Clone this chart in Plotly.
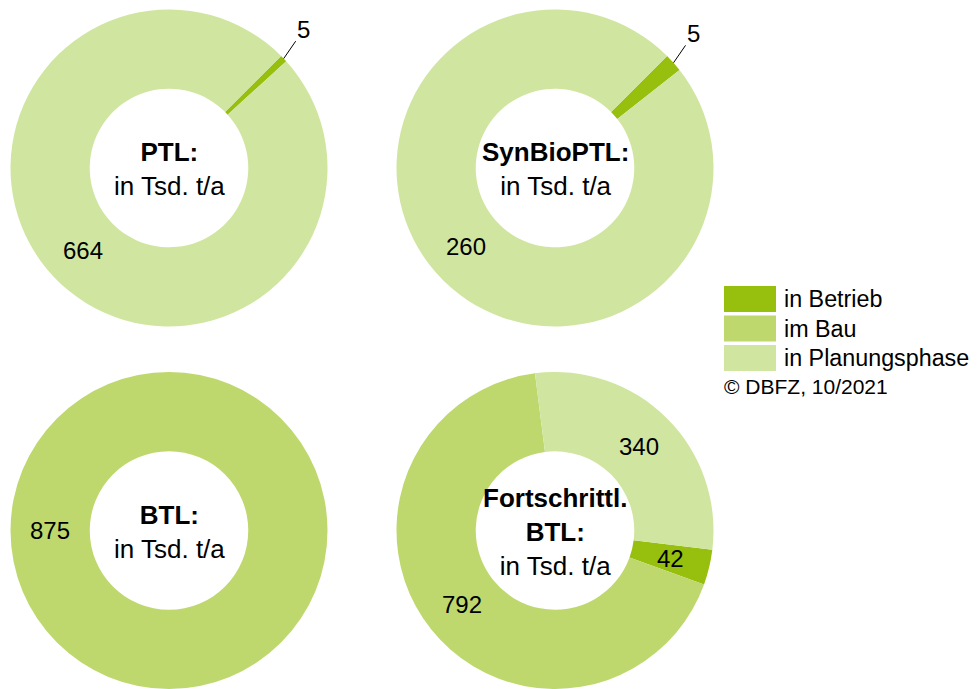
import math
import plotly.graph_objects as go

# --- data -------------------------------------------------------------
categories = ["in Betrieb", "im Bau", "in Planungsphase"]
colors = ["#97BF0D", "#BED86E", "#D0E6A0"]

chart_titles = [["PTL:"], ["SynBioPTL:"], ["BTL:"], ["Fortschrittl.", "BTL:"]]
unit_label = "in Tsd. t/a"
source_note = "© DBFZ, 10/2021"

ptl = [5, 0, 664]
synbioptl = [5, 0, 260]
btl = [0, 875, 0]
fortschrittl_btl = [42, 792, 340]
series = [ptl, synbioptl, btl, fortschrittl_btl]

# angle of the first slice (degrees clockwise from 12 o'clock)
start_angles = [45, 45, 90, 97]

# --- geometry / style -------------------------------------------------
W, H = 977, 689
R = 158.5
HOLE = 0.5
centers = [(169, 168), (555, 168), (169, 530.5), (555, 530.5)]
FONT = "Liberation Sans, Arial, sans-serif"
VALUE_SIZE = 24
TITLE_SIZE = 26
LEGEND_SIZE = 23.3


def px_to_paper(x, y):
    return x / W, 1 - y / H


fig = go.Figure()
annotations = []

for vals, rot, (cx, cy), title in zip(series, start_angles, centers, chart_titles):
    x0, y1 = px_to_paper(cx - R, cy - R)
    x1, y0 = px_to_paper(cx + R, cy + R)
    fig.add_trace(go.Pie(
        labels=categories,
        values=vals,
        hole=HOLE,
        sort=False,
        direction="clockwise",
        rotation=rot,
        textinfo="none",
        hoverinfo="label+value",
        marker=dict(colors=colors, line=dict(width=0)),
        domain=dict(x=[max(x0, 0), min(x1, 1)], y=[max(y0, 0), min(y1, 1)]),
        showlegend=False,
    ))

    # value labels placed at each slice's mid angle
    total = sum(vals)
    cum = 0
    for v in vals:
        if v > 0:
            mid = math.radians(rot + (cum + v / 2) / total * 360)
            if v / total < 0.025:
                # thin slice: label outside with a short leader line
                px, py = cx + R * math.sin(mid), cy - R * math.cos(mid)
                ax_, ay_ = px_to_paper(px, py)
                annotations.append(dict(
                    x=ax_, y=ay_, xref="paper", yref="paper",
                    text=str(v), showarrow=True, arrowhead=0, arrowwidth=1,
                    arrowcolor="#000000", standoff=0, ax=20, ay=-29,
                    font=dict(size=VALUE_SIZE, color="#000000", family=FONT),
                ))
            else:
                rr = R * 0.75
                px, py = cx + rr * math.sin(mid), cy - rr * math.cos(mid)
                ax_, ay_ = px_to_paper(px, py)
                annotations.append(dict(
                    x=ax_, y=ay_, xref="paper", yref="paper",
                    text=str(v), showarrow=False,
                    xanchor="center", yanchor="middle",
                    font=dict(size=VALUE_SIZE, color="#000000", family=FONT),
                ))
        cum += v

    # centre caption inside the hole
    tx, ty = px_to_paper(cx, cy + 1)
    caption = "<br>".join(f"<b>{t}</b>" for t in title) + "<br>" + unit_label
    annotations.append(dict(
        x=tx, y=ty, xref="paper", yref="paper", text=caption,
        showarrow=False, xanchor="center", yanchor="middle", align="center",
        font=dict(size=TITLE_SIZE, color="#000000", family=FONT),
    ))

# --- legend (drawn manually for the wide swatches) ---------------------
shapes = []
LEG_X0, LEG_X1 = 724, 776
LEG_TOP, LEG_STEP, LEG_H = 286, 29.5, 26
for i, (cat, col) in enumerate(zip(categories, colors)):
    top = LEG_TOP + i * LEG_STEP
    sx0, sy1 = px_to_paper(LEG_X0, top)
    sx1, sy0 = px_to_paper(LEG_X1, top + LEG_H)
    shapes.append(dict(type="rect", xref="paper", yref="paper",
                       x0=sx0, x1=sx1, y0=sy0, y1=sy1,
                       fillcolor=col, line=dict(width=0)))
    lx, ly = px_to_paper(782, top + LEG_H / 2)
    annotations.append(dict(
        x=lx, y=ly, xref="paper", yref="paper", text=cat, showarrow=False,
        xanchor="left", yanchor="middle",
        font=dict(size=LEGEND_SIZE, color="#000000", family=FONT),
    ))

nx, ny = px_to_paper(722, 386)
annotations.append(dict(
    x=nx, y=ny, xref="paper", yref="paper", text=source_note, showarrow=False,
    xanchor="left", yanchor="middle",
    font=dict(size=21, color="#000000", family=FONT),
))

fig.update_layout(
    width=W, height=H,
    margin=dict(l=0, r=0, t=0, b=0),
    paper_bgcolor="white", plot_bgcolor="white",
    showlegend=False,
    annotations=annotations,
    shapes=shapes,
    font=dict(family=FONT),
)

fig.write_html("out.html")
